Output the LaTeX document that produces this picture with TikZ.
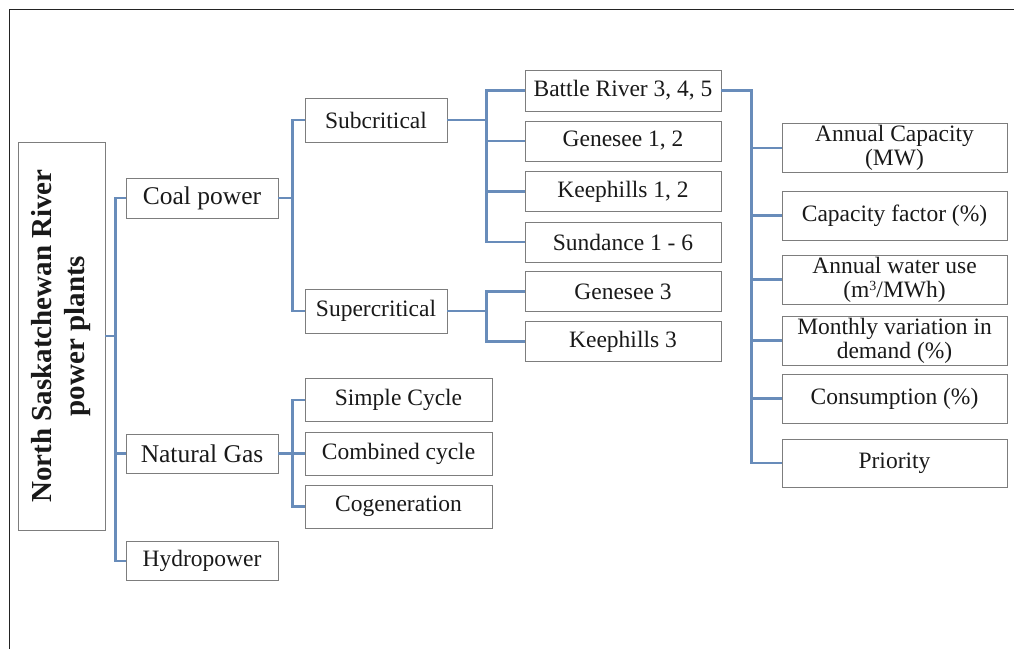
\documentclass[tikz,border=0pt]{standalone}
\usepackage{fontspec}
\setmainfont{Liberation Serif}
\usepackage{graphicx}
\definecolor{linkblue}{RGB}{104,140,186}
\definecolor{boxgray}{RGB}{125,125,125}
\definecolor{framegray}{RGB}{35,35,35}
\definecolor{txt}{RGB}{25,25,25}
\newcommand{\cubesup}{\raisebox{0.28em}{\fontsize{14}{14}\selectfont 3}}
\begin{document}
\begin{tikzpicture}[x=1pt,y=-1pt,
  box/.style={draw=boxgray, line width=0.9pt, rectangle, inner sep=0pt, align=center, text=txt,
              font=\fontsize{23.5}{24}\selectfont},
  big/.style={box, font=\fontsize{25.5}{26}\selectfont},
  link/.style={draw=linkblue, line width=2.2pt},
  frameline/.style={draw=framegray, line width=1.8pt}]
\useasboundingbox (0,0) rectangle (1014,649);
\draw[frameline] (9.5,649) -- (9.5,9.5) -- (1014,9.5);

% root
\node[box, minimum width=87pt, minimum height=388pt] (root) at (61.5,336)
  {\rotatebox{90}{\setlength{\tabcolsep}{0pt}\fontsize{29}{33}\selectfont\bfseries
   \begin{tabular}{c}North Saskatchewan River\\power plants\end{tabular}}};

% level 1
\node[big, minimum width=152pt, minimum height=40pt] (coal) at (202,198) {Coal power};
\node[big, minimum width=152pt, minimum height=39pt] (gas) at (202,453.5) {Natural Gas};
\node[box, minimum width=152pt, minimum height=39pt] (hydro) at (202,561) {Hydropower};

% level 2
\node[box, minimum width=142pt, minimum height=44pt] (sub) at (376,120) {Subcritical};
\node[box, minimum width=142pt, minimum height=44pt] (super) at (376,311) {Supercritical};
\node[box, minimum width=187pt, minimum height=43pt] (simple) at (398.5,400) {Simple Cycle};
\node[box, minimum width=187pt, minimum height=43pt] (comb) at (398.5,453.5) {Combined cycle};
\node[box, minimum width=187pt, minimum height=43pt] (cogen) at (398.5,506.5) {Cogeneration};

% level 3
\node[box, minimum width=196pt, minimum height=41pt] (battle) at (623,90.5) {Battle River 3, 4, 5};
\node[box, minimum width=196pt, minimum height=40pt] (gen12) at (623,141) {Genesee 1, 2};
\node[box, minimum width=196pt, minimum height=40pt] (keep12) at (623,191.5) {Keephills 1, 2};
\node[box, minimum width=196pt, minimum height=40pt] (sund) at (623,242) {Sundance 1 - 6};
\node[box, minimum width=196pt, minimum height=40pt] (gen3) at (623,291.5) {Genesee 3};
\node[box, minimum width=196pt, minimum height=40pt] (keep3) at (623,341.5) {Keephills 3};

% attributes
\node[box, minimum width=225pt, minimum height=49pt] (cap) at (894.5,148) {Annual Capacity\\(MW)};
\node[box, minimum width=225pt, minimum height=49pt] (cf) at (894.5,215.5) {Capacity factor (\%)};
\node[box, minimum width=225pt, minimum height=49pt] (water) at (894.5,279.5) {Annual water use\\(m\cubesup/MWh)};
\node[box, minimum width=225pt, minimum height=49pt] (month) at (894.5,340.5) {Monthly variation in\\demand (\%)};
\node[box, minimum width=225pt, minimum height=49pt] (cons) at (894.5,398.5) {Consumption (\%)};
\node[box, minimum width=225pt, minimum height=48pt] (prio) at (894.5,463) {Priority};

% connectors
\foreach \c in {coal,gas,hydro}
  \draw[link] (root.east) -- ++(10,0) |- (\c.west);
\foreach \c in {sub,super}
  \draw[link] (coal.east) -- ++(14,0) |- (\c.west);
\foreach \c in {simple,comb,cogen}
  \draw[link] (gas.east) -- ++(14,0) |- (\c.west);
\foreach \c in {battle,gen12,keep12,sund}
  \draw[link] (sub.east) -- ++(39,0) |- (\c.west);
\foreach \c in {gen3,keep3}
  \draw[link] (super.east) -- ++(39,0) |- (\c.west);
\foreach \c in {cap,cf,water,month,cons,prio}
  \draw[link] (battle.east) -- ++(30,0) |- (\c.west);
\end{tikzpicture}
\end{document}
